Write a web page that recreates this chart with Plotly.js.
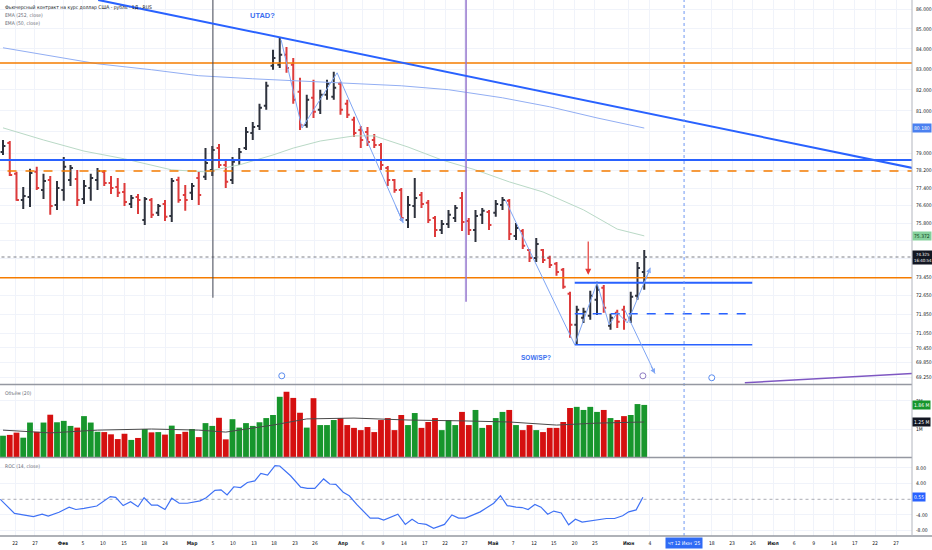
<!DOCTYPE html>
<html><head><meta charset="utf-8">
<script src="https://cdn.plot.ly/plotly-3.0.1.min.js"></script>
<style>html,body{margin:0;padding:0;background:#fff;}#chart{width:932px;height:550px;}</style>
</head><body><div id="chart"></div>
<script>
// ---------- data ----------
const openP = [
79.06,79.48,78.05,76.86,76.99,78.14,77.31,77.77,76.63,77.31,
77.77,77.81,76.90,77.40,77.77,78.14,77.63,77.45,77.22,76.68,
76.99,75.96,76.86,76.28,76.68,76.14,77.77,77.08,77.18,77.86,
77.91,78.23,79.24,78.46,77.77,78.69,79.24,79.95,80.28,81.24,
83.17,83.22,83.71,83.22,81.91,80.33,81.62,81.05,81.77,81.67,
82.30,81.34,80.57,80.09,79.99,79.62,79.38,78.32,77.77,77.31,
75.96,76.59,77.08,76.73,76.05,75.51,75.78,76.05,76.95,75.91,
75.51,76.19,76.32,76.28,76.63,76.82,75.24,75.47,74.63,74.28,
74.63,74.28,74.02,73.76,72.73,71.41,71.71,71.79,72.47,72.99,
71.37,71.92,72.05,71.71,72.64,73.67];
const highP = [
79.62,79.57,78.14,77.45,78.28,78.37,78.05,77.95,77.72,78.83,
78.46,78.23,77.77,78.05,78.32,78.23,77.95,77.86,77.63,77.08,
77.13,76.99,76.95,76.68,76.86,77.86,77.91,77.54,77.63,78.14,
79.24,79.34,79.43,78.69,78.83,79.24,80.23,80.47,81.34,82.39,
83.96,84.59,84.10,83.56,82.59,81.77,82.49,82.01,82.49,82.88,
82.39,81.53,80.71,80.28,80.23,79.90,79.48,78.41,77.81,77.40,
77.04,77.86,77.22,76.86,76.14,75.96,76.41,76.63,77.22,76.05,
76.41,76.50,76.41,76.86,76.99,76.90,75.82,75.55,74.67,75.16,
74.67,74.37,74.10,73.84,72.81,72.22,72.13,72.86,73.24,73.11,
71.88,72.05,72.22,72.81,74.10,74.63];
const lowP = [
78.92,77.95,76.82,76.45,76.54,77.31,76.90,76.19,76.41,76.82,
77.49,76.59,76.68,76.82,77.31,77.49,77.13,76.99,76.59,76.50,
76.23,75.73,76.05,76.14,75.91,75.87,76.73,76.37,76.86,76.63,
77.77,77.95,78.32,77.40,77.58,78.46,79.15,79.62,80.09,81.05,
82.98,83.07,82.83,81.34,80.09,80.19,80.66,80.85,81.53,81.53,
80.81,80.66,79.76,79.24,79.34,79.24,78.23,77.49,77.18,75.91,
75.60,76.05,76.50,75.82,75.20,75.33,75.60,75.87,75.47,75.29,
74.98,75.78,75.51,76.10,76.41,75.07,75.07,74.67,74.10,74.10,
74.06,73.84,73.50,72.94,70.87,70.58,71.49,71.62,71.83,71.92,
71.20,71.28,71.20,71.49,72.47,72.90];
const closeP = [
79.34,78.00,76.86,77.04,78.09,77.40,77.72,76.59,77.40,78.37,
78.32,76.86,77.49,77.86,78.18,77.63,77.40,77.18,76.77,76.95,
76.86,76.90,76.19,76.59,76.10,77.72,76.86,76.86,77.49,77.08,
78.55,79.15,78.46,77.68,78.60,79.06,79.99,80.23,81.15,82.20,
83.56,83.71,83.07,81.53,80.33,81.53,80.95,81.77,82.30,82.10,
81.05,80.81,79.95,79.62,79.53,79.38,78.46,77.77,77.31,76.05,
76.63,76.95,76.68,75.96,75.51,75.78,76.19,76.50,75.87,75.51,
76.14,76.37,75.73,76.68,76.86,75.33,75.60,74.81,74.28,74.89,
74.19,73.97,73.67,73.03,71.41,72.05,71.96,72.64,72.90,72.13,
71.71,71.54,71.62,72.60,73.84,74.32];
// volume, millions
const volumeM = [
0.76,0.79,0.87,0.69,1.23,0.90,1.23,1.51,1.24,1.29,
1.11,1.05,1.46,1.23,0.90,0.89,0.81,0.64,0.83,0.61,
0.68,1.00,0.88,0.89,0.80,1.12,0.82,0.90,1.00,0.71,
1.21,1.11,1.40,0.63,1.35,1.05,1.21,1.11,1.24,1.39,
1.50,2.15,2.33,2.11,1.58,1.05,2.10,1.14,1.14,1.32,
1.39,1.14,1.04,0.96,1.07,0.89,1.32,1.39,0.96,1.50,
1.14,1.57,1.04,1.25,1.39,0.96,1.32,1.14,1.61,1.14,
1.68,1.04,1.14,1.39,1.61,1.68,1.14,0.96,1.14,0.96,
0.89,1.04,1.04,1.25,1.75,1.79,1.68,1.79,1.61,1.68,
1.39,1.32,1.46,1.50,1.89,1.86];
const volMAIdx = [0,7,14,22,29,33,40,45,52,60,68,75,82,88,95];
const volMAVal = [0.96,0.86,0.96,1.00,0.96,0.89,1.14,1.36,1.39,1.32,1.29,1.25,1.14,1.21,1.25];

const ema252Idx = [0,7,14,22,29,37,44,51,59,66,74,81,88,95];
const ema252Val = [84.06,83.66,83.27,82.98,82.69,82.54,82.44,82.35,82.20,82.01,81.62,81.19,80.66,80.18];
const ema50Idx = [0,6,12,18,25,30,35,40,43,47,52,55,60,65,70,75,80,86,91,95];
const ema50Val = [80.19,79.62,79.10,78.74,78.23,78.14,78.46,78.92,79.24,79.57,79.81,79.81,79.29,78.69,78.23,77.68,77.22,76.41,75.55,75.25];

const rocIdx = [-0.4,1.7,4.5,5.8,6.7,8.3,9.8,10.8,12.0,13.9,15.9,16.7,17.8,18.9,20.0,20.9,22.0,22.9,24.0,25.0,
26.1,27.3,29.2,30.1,31.4,32.3,33.2,34.2,35.2,36.2,37.3,38.2,39.2,40.3,41.0,42.6,44.1,45.1,46.2,47.5,
48.4,49.3,50.4,51.3,52.4,54.4,55.6,56.4,58.5,59.6,60.6,61.5,62.7,63.8,65.4,66.5,67.5,68.5,70.7,72.7,
73.7,74.7,76.0,76.9,77.8,78.8,79.7,80.7,81.6,82.7,83.8,84.8,85.8,86.9,88.1,89.4,90.6,91.8,92.7,93.8,94.8];
const rocVal = [0.0,-3.6,-4.4,-3.8,-4.3,-3.3,-2.0,-2.6,-2.3,-1.7,0.7,0.5,-1.6,-0.6,-1.9,0.4,-1.5,-1.5,-2.6,0.3,
-1.0,-1.0,-0.4,0.4,2.3,2.4,1.1,3.2,3.0,4.3,4.7,6.6,6.2,8.6,8.5,6.0,3.1,2.8,2.8,5.2,
3.9,3.8,1.8,0.9,-1.3,-4.8,-4.8,-5.3,-3.8,-6.4,-5.1,-6.1,-6.4,-7.4,-6.4,-4.0,-4.8,-4.8,-3.2,-1.0,
0.9,-1.6,-2.0,-2.1,-2.6,-1.3,-2.0,-3.8,-3.0,-3.5,-6.5,-5.1,-5.8,-5.5,-5.1,-4.9,-4.9,-4.2,-3.2,-2.7,0.55];

// x-axis ticks (bar-index positions)
const tickIdx = [1.78,4.74,8.89,11.85,14.81,17.93,20.89,24.0,28.0,31.1,34.07,37.19,40.15,43.26,46.22,
50.37,53.33,56.3,59.4,62.5,65.5,68.4,72.6,75.6,78.67,81.6,84.7,87.7,92.7,95.85,105.0,108.0,111.1,
114.1,117.2,120.1,123.1,126.2,129.2,132.3];
const tickText = ['22','27','<b>Фев</b>','5','10','15','18','24','<b>Мар</b>','5','10','13','18','23','26',
'<b>Апр</b>','6','9','14','17','22','27','<b>Май</b>','7','12','15','20','25','<b>Июн</b>','4','18','23','26',
'<b>Июл</b>','6','9','14','17','22','27'];
const priceTicks = [86,85,84,83,82,81,80,79,78.2,77.4,76.6,75.8,75.05,74.25,73.45,72.65,71.85,71.05,70.45,69.85,69.25];
const priceTickText = ['86.000','85.000','84.000','83.000','82.000','81.000','','79.000','78.200','77.400','76.600','75.800','','','73.450','72.650','71.850','71.050','70.450','69.850','69.250'];

// drawings (price levels / anchor points)
const levelOrangeTop = 83.31, levelBlue = 78.69, levelOrangeDash = 78.18, levelOrangeLow = 73.42;
const rangeIdx = [84.7, 111.0], rangeTop = 73.20, rangeMid = 71.88, rangeLow = 70.58;
const trendIdx = [14.1, 134.7], trendP = [86.46, 78.32];
const zigAIdx = [41.2,44.3,49.5,59.3], zigAP = [84.45,80.18,82.83,75.82];
const zigBIdx = [74.4,84.7,88.0,89.8,91.0,92.5,95.9], zigBP = [76.86,70.58,73.20,71.41,71.92,71.49,73.85];
const zigCIdx = [92.1,96.6], zigCP = [72.05,69.39];
const vDarkIdx = 31.1, vDarkBottom = 72.56, vPurpleIdx = 68.6, vPurpleBottom = 72.39;
const nowIdx = 100.9;
const purpleLineIdx = [109.9,134.7], purpleLineP = [69.02,69.39];
const eventIdx = [41.3,94.8,105.0], eventP = [69.30,69.30,69.22];
const lastPrice = 74.32;

// ---------- styling ----------
const FONT = 'Liberation Sans Narrow, DejaVu Sans Condensed, Liberation Sans, Arial, sans-serif';
const UP = '#2e323d', DOWN = '#dd3b3b';
const VGREEN = '#17962c', VRED = '#d51010';
const BLUE = '#2962ff', LBLUE = '#7fa6f4', ORANGE = '#f57c00', GRID = '#f0f3fa';
const idx = closeP.map((_, i) => i);
const L = Math.log10;

function hLine(p, color, width, dash, ya) {
  return {x:[-2,140], y:[p,p], xaxis:'x', yaxis: ya||'y', mode:'lines', line:{color, width, dash: dash||'solid'}, hoverinfo:'skip', showlegend:false};
}
function seg(xs, ys, color, width, dash, ya) {
  return {x:xs, y:ys, xaxis:'x', yaxis: ya||'y', mode:'lines', line:{color, width, dash: dash||'solid'}, hoverinfo:'skip', showlegend:false};
}

const traces = [
  seg(ema252Idx, ema252Val, '#92aef3', 1),
  seg(ema50Idx, ema50Val, '#b9d9c6', 1),
  hLine(levelOrangeTop, ORANGE, 1.5),
  hLine(levelBlue, BLUE, 2),
  hLine(levelOrangeDash, ORANGE, 1.5, 'dash'),
  hLine(levelOrangeLow, ORANGE, 1.5),
  hLine(lastPrice, '#5d606b', 0.8, 'dot'),
  seg([vDarkIdx, vDarkIdx], [90, vDarkBottom], '#434651', 1),
  seg([vPurpleIdx, vPurpleIdx], [90, vPurpleBottom], '#9575cd', 1.5),
  {type:'ohlc', x: idx, open: openP, high: highP, low: lowP, close: closeP, xaxis:'x', yaxis:'y',
   increasing:{line:{color:UP, width:2}}, decreasing:{line:{color:DOWN, width:2}},
   tickwidth:0.36, hoverinfo:'skip', showlegend:false},
  seg(trendIdx, trendP, BLUE, 2),
  seg(rangeIdx, [rangeTop, rangeTop], BLUE, 2),
  seg(rangeIdx, [rangeMid, rangeMid], BLUE, 1.5, 'dash'),
  seg(rangeIdx, [rangeLow, rangeLow], BLUE, 1.5),
  seg(zigAIdx, zigAP, LBLUE, 1),
  seg(zigBIdx, zigBP, LBLUE, 1),
  seg(zigCIdx, zigCP, LBLUE, 1),
  seg(purpleLineIdx, purpleLineP, '#7e57c2', 1.5),
  {x: eventIdx, y: eventP, xaxis:'x', yaxis:'y', mode:'markers',
   marker:{symbol:'circle', size:6, color:'#ffffff', line:{color:['#5b8def','#8e7cc3','#5b8def'], width:1}},
   hoverinfo:'skip', showlegend:false, cliponaxis:false},
  // volume
  {type:'bar', x: idx, y: volumeM, xaxis:'x', yaxis:'y2', width:0.86,
   marker:{color: closeP.map((c,i)=> c >= openP[i] ? VGREEN : VRED), line:{width:0}},
   hoverinfo:'skip', showlegend:false},
  seg(volMAIdx, volMAVal, '#4a4a4a', 1, 'solid', 'y2'),
  // ROC
  hLine(0, '#9598a1', 0.8, 'dot', 'y3'),
  seg(rocIdx, rocVal, '#3f72f5', 1.2, 'solid', 'y3')
];

function box(text, yval, yref, bg, fg, size) {
  return {xref:'paper', x:1, xanchor:'left', xshift:0, yref, y:yval, yanchor:'middle', text,
    showarrow:false, bgcolor:bg, borderpad:1, font:{family:FONT, size:size||5, color:fg||'#ffffff'}};
}
function arrow(x, y, ax, ay, color, width) {
  return {xref:'x', yref:'y', axref:'x', ayref:'y', x, y:L(y), ax, ay:L(ay), text:'', showarrow:true,
    arrowhead:2, arrowsize:1, arrowwidth:width, arrowcolor:color, standoff:0, startstandoff:0};
}

const annotations = [
  {xref:'paper', yref:'paper', x:0.003, y:1-7/536, xanchor:'left', yanchor:'middle', showarrow:false,
   text:'Фьючерсный контракт на курс доллар США - рубль · 1Д · RUS', font:{family:FONT, size:5, color:'#131722'}},
  {xref:'paper', yref:'paper', x:0.003, y:1-15/536, xanchor:'left', yanchor:'middle', showarrow:false,
   text:'EMA (252, close)', font:{family:FONT, size:5, color:'#6a6d78'}},
  {xref:'paper', yref:'paper', x:0.003, y:1-23/536, xanchor:'left', yanchor:'middle', showarrow:false,
   text:'EMA (50, close)', font:{family:FONT, size:5, color:'#6a6d78'}},
  {xref:'paper', yref:'paper', x:0.003, y:1-393/536, xanchor:'left', yanchor:'middle', showarrow:false,
   text:'Объём (20)', font:{family:FONT, size:5, color:'#6a6d78'}},
  {xref:'paper', yref:'paper', x:0.003, y:1-466/536, xanchor:'left', yanchor:'middle', showarrow:false,
   text:'ROC (14, close)', font:{family:FONT, size:5, color:'#6a6d78'}},
  {xref:'paper', yref:'paper', x:262/912, y:1-16/536, xanchor:'center', yanchor:'middle', showarrow:false,
   text:'<b>UTAD?</b>', font:{family:'Liberation Sans, Arial, sans-serif', size:7.5, color:'#3b6ff0'}},
  {xref:'paper', yref:'paper', x:536/912, y:1-357/536, xanchor:'center', yanchor:'middle', showarrow:false,
   text:'<b>SOW/SP?</b>', font:{family:'Liberation Sans, Arial, sans-serif', size:6.5, color:'#3b6ff0'}},
  arrow(zigAIdx[3], zigAP[3], 58.1, 76.63, LBLUE, 1),
  arrow(zigBIdx[6], zigBP[6], 95.1, 73.24, LBLUE, 1),
  arrow(zigCIdx[1], zigCP[1], 95.9, 69.75, LBLUE, 1),
  arrow(86.7, 73.55, 86.7, 75.07, '#e53935', 1.2),
  box('80.180', L(80.18), 'y', '#4a80f0'),
  box('75.372', L(75.25), 'y', '#86d19d', '#0b3d1a'),
  box('74.325<br>16:40:54', L(lastPrice), 'y', '#131722', '#ffffff', 4.3),
  box('1.86 M', 1.86, 'y2', VGREEN),
  box('1.25 M', 1.25, 'y2', '#131722'),
  box('0.55', 0.55, 'y3', BLUE),
  {xref:'x', x: nowIdx, yref:'paper', y:-7/536, xanchor:'center', yanchor:'middle', showarrow:false,
   text:"чт 12 Июн '25", bgcolor:'#2f6bf5', borderpad:2, font:{family:FONT, size:5, color:'#ffffff'}}
];

const shapes = [
  {type:'line', xref:'x', yref:'paper', x0:nowIdx, x1:nowIdx, y0:0, y1:1, line:{color:'#6f97f2', width:1, dash:'dot'}},
  {type:'line', xref:'paper', yref:'paper', x0:0, x1:1, y0:(536-384.5)/536, y1:(536-384.5)/536, line:{color:'#9598a1', width:1.5}},
  {type:'line', xref:'paper', yref:'paper', x0:0, x1:1, y0:(536-457.5)/536, y1:(536-457.5)/536, line:{color:'#9598a1', width:1.5}},
  {type:'line', xref:'paper', yref:'paper', x0:0, x1:1.03, y0:0, y1:0, line:{color:'#9598a1', width:1.5}},
  {type:'line', xref:'paper', yref:'paper', x0:1, x1:1, y0:0, y1:1, line:{color:'#b2b5be', width:1}}
];

const axBase = {showline:false, zeroline:false, ticks:'', gridcolor:GRID, gridwidth:1, fixedrange:true,
  tickfont:{family:FONT, size:5, color:'#131722'}};

const layout = {
  width:932, height:550, margin:{l:0, r:20, t:0, b:14},
  paper_bgcolor:'#ffffff', plot_bgcolor:'#ffffff', showlegend:false, dragmode:false,
  font:{family:FONT, size:5, color:'#131722'},
  xaxis: Object.assign({}, axBase, {range:[-0.444, 134.667], anchor:'y3', tickmode:'array', tickvals:tickIdx,
    ticktext:tickText, showgrid:true, rangeslider:{visible:false}, ticklabelstandoff:3}),
  yaxis: Object.assign({}, axBase, {type:'log', range:[1.838642, 1.936800], domain:[(536-384)/536, 1], side:'right',
    anchor:'x', tickmode:'array', tickvals:priceTicks, ticktext:priceTickText, ticklabelstandoff:3}),
  yaxis2: Object.assign({}, axBase, {range:[0, 2.571], domain:[(536-457)/536, (536-385)/536], side:'right',
    anchor:'x', tickmode:'array', tickvals:[1,2], ticktext:['1M','2M'], ticklabelstandoff:3}),
  yaxis3: Object.assign({}, axBase, {range:[-9.36, 10.54], domain:[0, (536-458)/536], side:'right',
    anchor:'x', tickmode:'array', tickvals:[-8,-4,4,8], ticktext:['-8.00','-4.00','4.00','8.00'], ticklabelstandoff:3}),
  annotations, shapes
};

Plotly.newPlot('chart', traces, layout, {staticPlot:true, displayModeBar:false});
</script>
</body></html>
